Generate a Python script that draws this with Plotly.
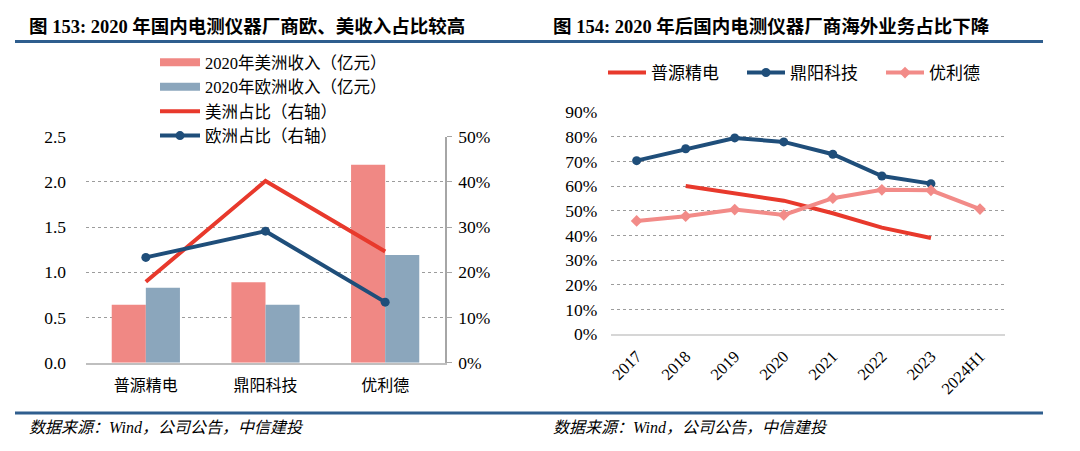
import plotly.graph_objects as go

W, H = 1080, 451


def px(x):
    return x / W


def py(y):
    return 1 - y / H


# ---------------- data: left chart ----------------
companies = ["普源精电", "鼎阳科技", "优利德"]
rev_america = [0.64, 0.89, 2.19]      # 2020年美洲收入（亿元）
rev_europe = [0.83, 0.64, 1.19]       # 2020年欧洲收入（亿元）
share_america = [0.179, 0.402, 0.246]  # 美洲占比（右轴）
share_europe = [0.233, 0.291, 0.134]   # 欧洲占比（右轴）
left_names = ["2020年美洲收入（亿元）", "2020年欧洲收入（亿元）", "美洲占比（右轴）", "欧洲占比（右轴）"]

# ---------------- data: right chart ----------------
years = ["2017", "2018", "2019", "2020", "2021", "2022", "2023", "2024H1"]
rigol = [None, 0.600, 0.571, 0.541, 0.490, 0.432, 0.390, None]
siglent = [0.703, 0.751, 0.795, 0.779, 0.729, 0.641, 0.610, None]
uni_t = [0.459, 0.478, 0.505, 0.483, 0.551, 0.585, 0.583, 0.507]
right_names = ["普源精电", "鼎阳科技", "优利德"]

title_left = "图 153: 2020 年国内电测仪器厂商欧、美收入占比较高"
title_right = "图 154: 2020 年后国内电测仪器厂商海外业务占比下降"
source_text = "数据来源：Wind，公司公告，中信建投"

FONT = "Liberation Serif, Noto Sans CJK SC, serif"
C_BAR_RED = "#F08884"
C_BAR_BLUE = "#8BA6BC"
C_RED = "#E8392C"
C_NAVY = "#1F4E7A"
C_PINK = "#F28B88"
GRID = "#9C9C9C"

fig = go.Figure()

# Left chart bars (legend shown through wide swatch dummies)
fig.add_trace(go.Bar(x=companies, y=rev_america, name=left_names[0], marker_color=C_BAR_RED,
                     xaxis="x", yaxis="y", showlegend=False))
fig.add_trace(go.Bar(x=companies, y=rev_europe, name=left_names[1], marker_color=C_BAR_BLUE,
                     xaxis="x", yaxis="y", showlegend=False))
fig.add_trace(go.Scatter(x=[None], y=[None], mode="lines", name=left_names[0],
                         line=dict(color=C_BAR_RED, width=8), xaxis="x", yaxis="y", legend="legend"))
fig.add_trace(go.Scatter(x=[None], y=[None], mode="lines", name=left_names[1],
                         line=dict(color=C_BAR_BLUE, width=8), xaxis="x", yaxis="y", legend="legend"))
fig.add_trace(go.Scatter(x=companies, y=share_america, name=left_names[2], mode="lines",
                         line=dict(color=C_RED, width=4), xaxis="x", yaxis="y2", legend="legend"))
fig.add_trace(go.Scatter(x=companies, y=share_europe, name=left_names[3], mode="lines+markers",
                         line=dict(color=C_NAVY, width=4), marker=dict(size=9, color=C_NAVY),
                         xaxis="x", yaxis="y2", legend="legend"))

# Right chart lines
fig.add_trace(go.Scatter(x=years, y=rigol, name=right_names[0], mode="lines",
                         line=dict(color=C_RED, width=4), xaxis="x2", yaxis="y3", legend="legend2"))
fig.add_trace(go.Scatter(x=years, y=siglent, name=right_names[1], mode="lines+markers",
                         line=dict(color=C_NAVY, width=4), marker=dict(size=9, color=C_NAVY),
                         xaxis="x2", yaxis="y3", legend="legend2"))
fig.add_trace(go.Scatter(x=years, y=uni_t, name=right_names[2], mode="lines+markers",
                         line=dict(color=C_PINK, width=4),
                         marker=dict(size=9, color=C_PINK, symbol="diamond"),
                         xaxis="x2", yaxis="y3", legend="legend2"))

tickfont = dict(family=FONT, size=17.5, color="#000")

fig.update_layout(
    template="none",
    width=W, height=H,
    margin=dict(l=0, r=0, t=0, b=0, autoexpand=False),
    paper_bgcolor="white", plot_bgcolor="white",
    font=dict(family=FONT, size=16, color="#000"),
    barmode="group", bargap=0.43, bargroupgap=0,
    xaxis=dict(domain=[px(86), px(445)], anchor="y", type="category", automargin=False,
               showline=True, linecolor="#BFBFBF", linewidth=1.5, ticks="",
               tickfont=dict(family=FONT, size=16), showgrid=False, zeroline=False,
               ticklabelstandoff=7),
    yaxis=dict(domain=[py(362.7), py(136.7)], range=[0, 2.5], dtick=0.5, tickformat=".1f",
               automargin=False, showline=False,
               showgrid=True, griddash="dot", gridcolor=GRID, gridwidth=1, zeroline=False,
               tickfont=tickfont, ticks="", ticklabelstandoff=19),
    yaxis2=dict(overlaying="y", side="right", anchor="x", range=[0, 0.5], dtick=0.1,
                automargin=False,
                tickformat=".0%", showgrid=False, zeroline=False, showline=True,
                linecolor="#A6A6A6", linewidth=1.5, ticks="outside", ticklen=5,
                tickcolor="#A6A6A6", tickfont=tickfont, ticklabelstandoff=3),
    xaxis2=dict(domain=[px(611.3), px(1005.3)], anchor="y3", type="category", automargin=False,
                showline=True, linecolor="#D6D6D6", linewidth=2, ticks="", tickangle=-45,
                tickfont=dict(family=FONT, size=16.5), showgrid=False, zeroline=False,
                ticklabelstandoff=4),
    yaxis3=dict(domain=[py(334.3), py(112)], range=[0, 0.9], dtick=0.1, tickformat=".0%",
                anchor="x2", automargin=False, showline=False,
                showgrid=True, griddash="dot", gridcolor=GRID, gridwidth=1, zeroline=False,
                tickfont=tickfont, ticks="", ticklabelstandoff=13),
    legend=dict(x=px(155), y=py(45), xanchor="left", yanchor="top", bgcolor="rgba(0,0,0,0)",
                font=dict(family=FONT, size=16.5), tracegroupgap=0, itemwidth=40, borderwidth=0),
    legend2=dict(orientation="h", x=px(603), y=py(55), xanchor="left", yanchor="top",
                 bgcolor="rgba(0,0,0,0)", font=dict(family=FONT, size=17), borderwidth=0,
                 itemwidth=38, entrywidth=86, entrywidthmode="pixels"),
)

annotations = []
for x0, txt in [(27, title_left), (551, title_right)]:
    annotations.append(dict(xref="paper", yref="paper", x=px(x0), y=py(27), xanchor="left",
                            yanchor="middle", showarrow=False, text="<b>" + txt + "</b>",
                            font=dict(family=FONT, size=18.5, color="#000")))
for x0 in [27, 551]:
    annotations.append(dict(xref="paper", yref="paper", x=px(x0), y=py(427), xanchor="left",
                            yanchor="middle", showarrow=False, text="<i>" + source_text + "</i>",
                            font=dict(family=FONT, size=16, color="#000")))
fig.update_layout(annotations=annotations)

shapes = []
for yy in [41.5, 413]:
    shapes.append(dict(type="line", xref="paper", yref="paper", x0=px(15), x1=px(1043),
                       y0=py(yy), y1=py(yy), line=dict(color="#2F5E8E", width=3)))
fig.update_layout(shapes=shapes)

fig.write_html("out.html", config={"displayModeBar": False},
               post_script="document.body.style.margin='0';")
